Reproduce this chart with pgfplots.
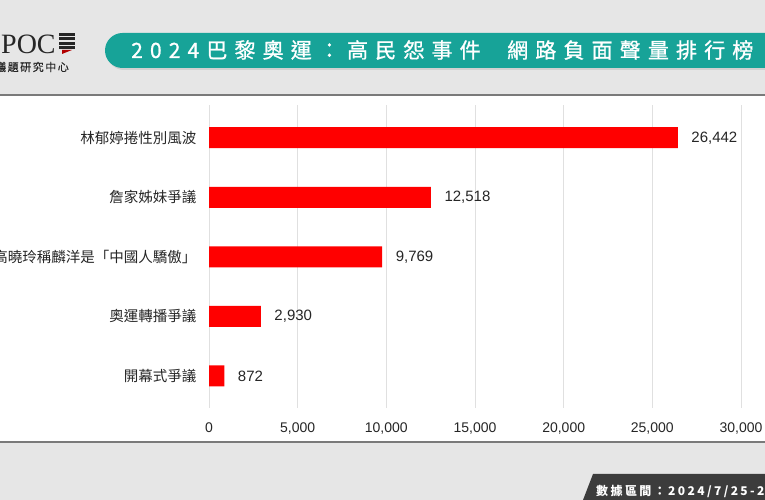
\documentclass[border=0pt]{standalone}
\usepackage{fontspec}
\setmainfont{Liberation Sans}
\newfontfamily\cjk{Noto Sans CJK TC}
\newfontfamily\titlecjk[LetterSpace=34,FakeBold=1]{Noto Sans CJK TC}
\newfontfamily\footcjk[LetterSpace=20]{Noto Sans CJK TC}
\newfontfamily\subcjk[LetterSpace=14,FakeBold=0.5]{Noto Sans CJK TC}
\newfontfamily\logoserif{Liberation Serif}
\usepackage{pgfplots}
\pgfplotsset{compat=1.18}
\definecolor{bgg}{HTML}{E6E6E6}
\definecolor{teal1}{HTML}{17A398}
\definecolor{sepc}{HTML}{7A7A7A}
\definecolor{gridc}{HTML}{E0E0E0}
\definecolor{tabc}{HTML}{3C3C3C}
\definecolor{barred}{HTML}{FF0000}
\definecolor{txt}{HTML}{262626}

\pgfplotstableread{
val idx
872 0
2930 1
9769 2
12518 3
26442 4
}\datatable

\begin{document}
\begin{tikzpicture}
\path[use as bounding box, clip] (0pt,0pt) rectangle (765pt,500pt);
\begin{scope}[x=1pt,y=1pt]
\fill[bgg] (0,0) rectangle (765,500);
\fill[white] (0,58) rectangle (765,405);
\draw[sepc, line width=1.5pt] (0,405) -- (765,405);
\draw[sepc, line width=1.5pt] (0,58) -- (765,58);
% banner
\fill[black!18, rounded corners=17pt] (107,430) rectangle (820,465);
\fill[teal1, rounded corners=17.5pt] (105,432) rectangle (820,467);
\node[anchor=west, inner sep=0, text=white, font=\titlecjk\fontsize{21}{21}\selectfont] at (131,450) {2024巴黎奧運：高民怨事件};
\node[anchor=west, inner sep=0, text=white, font=\titlecjk\fontsize{21}{21}\selectfont] at (507,450) {網路負面聲量排行榜};
% logo
\node[anchor=west, inner sep=0, text=txt, font=\logoserif\fontsize{28}{28}\selectfont] at (1,456) {POC};
\node[anchor=east, inner sep=0, text=txt, font=\subcjk\fontsize{11}{11}\selectfont] at (69,433) {議題研究中心};
\foreach \yy in {464,459.5,455,450.5} {\fill[txt] (59,\yy) rectangle (75,\yy+3);}
\fill[red!70!black] (62,450) -- (72,450) -- (62,446) -- cycle;
% footer tab
\fill[tabc] (583,0) -- (593,26) -- (780,26) -- (780,0) -- cycle;
\node[anchor=west, inner sep=0, text=white, font=\footcjk\bfseries\fontsize{12}{12}\selectfont] at (596,9) {數據區間：2024/7/25-2024/8/11};
\end{scope}
% chart
\begin{axis}[at={(209pt,92pt)}, anchor=south west, scale only axis,
  width=532pt, height=303pt,
  xbar, bar width=21pt,
  xmin=0, xmax=30000, ymin=-0.54, ymax=4.55,
  axis line style={draw=none},
  xmajorgrids, grid style={gridc, line width=1pt},
  xtick={0,5000,10000,15000,20000,25000,30000},
  ytick={0,1,2,3,4},
  yticklabels={開幕式爭議,奧運轉播爭議,高曉玲稱麟洋是「中國人驕傲」,詹家姊妹爭議,林郁婷捲性別風波},
  major tick length=0pt,
  scaled x ticks=false,
  /pgf/number format/assume math mode=true,
  /pgf/number format/1000 sep={,},
  xticklabel style={font=\fontsize{14}{14}\selectfont, text=txt, yshift=-11pt},
  yticklabel style={font=\cjk\fontsize{14.5}{14.5}\selectfont, text=txt, xshift=-9pt},
  nodes near coords,
  nodes near coords style={anchor=west, font=\fontsize{15}{15}\selectfont, text=txt, xshift=10pt},
  clip=false,
]
\addplot[fill=barred, draw=none] table[x=val, y=idx] {\datatable};
\end{axis}
\end{tikzpicture}
\end{document}
